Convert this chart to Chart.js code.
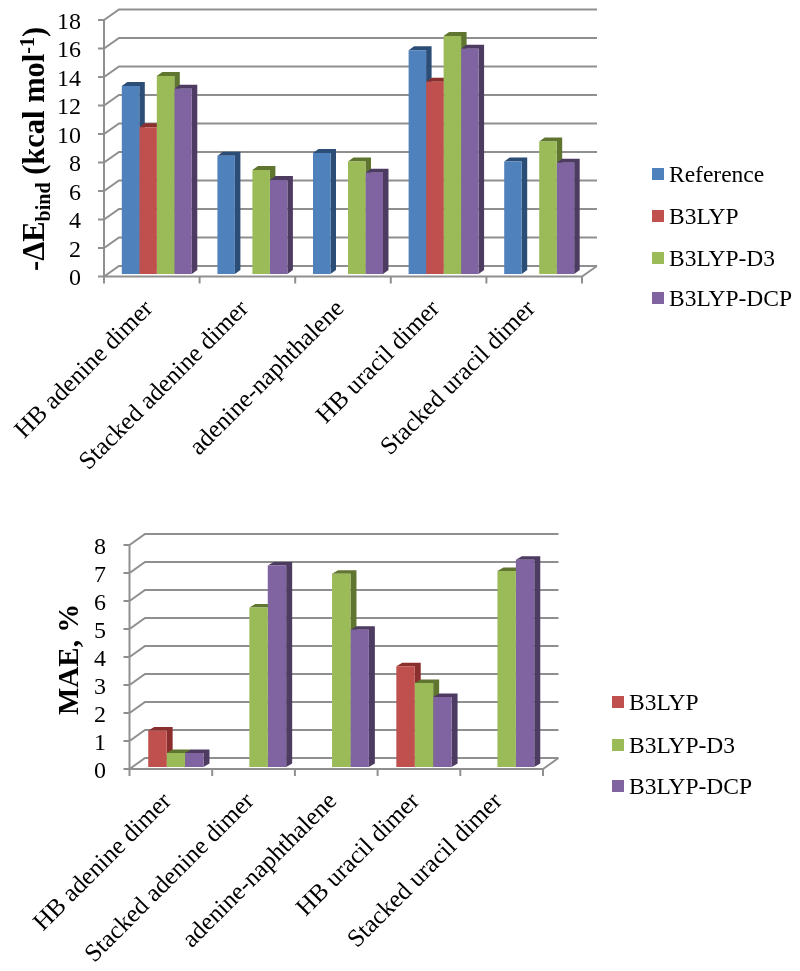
<!DOCTYPE html>
<html>
<head>
<meta charset="utf-8">
<script src="https://cdn.jsdelivr.net/npm/chart.js@4/dist/chart.umd.min.js"></script>
<style>
  body { margin: 0; background: #fff; }
  canvas { position: absolute; left: 0; }
</style>
</head>
<body>
<canvas id="energyChart" width="800" height="490" style="top:0"></canvas>
<canvas id="maeChart" width="800" height="481" style="top:490px"></canvas>
<script>
const categories = ['HB adenine dimer', 'Stacked adenine dimer', 'adenine-naphthalene', 'HB uracil dimer', 'Stacked uracil dimer'];

// top chart, -dE bind
const energyReference = [13.2, 8.3, 8.5, 15.7, 7.9];
const energyB3LYP = [10.3, null, null, 13.5, null];
const energyD3 = [13.9, 7.3, 7.9, 16.7, 9.3];
const energyDCP = [13.0, 6.6, 7.1, 15.8, 7.8];

// bottom chart, MAE
const maeB3LYP = [1.3, null, null, 3.6, null];
const maeD3 = [0.5, 5.7, 6.9, 3.0, 7.0];
const maeDCP = [0.5, 7.2, 4.9, 2.5, 7.4];

const SERIF = '"Liberation Serif"';
const GRID = '#8f8f8f';
const colors = {
    'Reference': ['#4f81bd', '#2c4d75'],
    'B3LYP': ['#c0504d', '#8a2f2d'],
    'B3LYP-D3': ['#9bbb59', '#5f7530'],
    'B3LYP-DCP': ['#8064a2', '#4d3b62']
};

// fake 3D walls, bar depth, legend and axis title
const fake3d = {
    id: 'fake3d',
    beforeDatasetsDraw(chart, args, o) {
        const ctx = chart.ctx;
        const { left, right, bottom } = chart.chartArea;
        const y = chart.scales.y;

        ctx.save();
        ctx.strokeStyle = GRID;
        ctx.lineWidth = 2;
        ctx.beginPath();
        y.ticks.forEach(t => {
            const py = y.getPixelForValue(t.value);
            ctx.moveTo(left - 6, py);
            ctx.lineTo(left, py);
            ctx.lineTo(left + o.wallX, py - o.wallY);
            ctx.lineTo(right + o.wallX, py - o.wallY);
        });
        ctx.moveTo(left, y.getPixelForValue(y.max));
        ctx.lineTo(left, bottom);
        ctx.lineTo(right, bottom);
        ctx.lineTo(right + o.wallX, bottom - o.wallY);
        for (let i = 0; i <= categories.length; i++) {
            const px = left + (right - left) * i / categories.length;
            ctx.moveTo(px, bottom);
            ctx.lineTo(px, bottom + 7);
        }
        ctx.stroke();

        ctx.translate(o.shiftX, -o.shiftY);

        // sides and tops go first, the library paints the fronts over them
        chart.data.datasets.forEach((ds, di) => {
            chart.getDatasetMeta(di).data.forEach((bar, i) => {
                if (ds.data[i] === null) return;
                const { x: cx, y: top, base, width } = bar.getProps(['x', 'y', 'base', 'width'], true);
                const l = cx - width / 2, r = cx + width / 2;
                ctx.fillStyle = colors[ds.label][1];
                ctx.beginPath();
                ctx.moveTo(l, top);
                ctx.lineTo(l + o.depthX, top - o.depthY);
                ctx.lineTo(r + o.depthX, top - o.depthY);
                ctx.lineTo(r + o.depthX, base - o.depthY);
                ctx.lineTo(r, base);
                ctx.lineTo(r, top);
                ctx.closePath();
                ctx.fill();
            });
        });
    },
    afterDatasetsDraw(chart, args, o) {
        const ctx = chart.ctx;
        ctx.restore();

        ctx.save();
        ctx.textBaseline = 'middle';
        ctx.font = '23.5px ' + SERIF;
        chart.data.datasets.forEach((ds, i) => {
            const ly = o.legendY[i];
            ctx.fillStyle = ds.backgroundColor;
            ctx.fillRect(o.legendX, ly - 6, 12, 12);
            ctx.fillStyle = '#000';
            ctx.fillText(ds.label, o.legendX + 17, ly + 1.5);
        });
        ctx.restore();

        ctx.save();
        ctx.translate(o.titleX, o.titleY);
        ctx.rotate(-Math.PI / 2);
        ctx.fillStyle = '#000';
        let cur = 0;
        o.title.forEach(part => {
            ctx.font = 'bold ' + part[1] + 'px ' + SERIF;
            ctx.fillText(part[0], cur, part[2]);
            cur += ctx.measureText(part[0]).width;
        });
        ctx.restore();
    }
};

function makeDatasets(labels, series) {
    return labels.map((label, i) => ({
        label: label,
        data: series[i],
        backgroundColor: colors[label][0],
        clip: false
    }));
}

// nudges the tick labels a few pixels, the axis options have no setting for it
function nudgeLabels(scale, dx, dy) {
    const compute = scale._computeLabelItems;
    scale._computeLabelItems = function (area) {
        const items = compute.call(this, area);
        items.forEach(item => {
            item.options.translation = [item.options.translation[0] + dx, item.options.translation[1] + dy];
        });
        return items;
    };
}

function makeChart(id, datasets, yMax, layout, fake) {
    const chart = new Chart(document.getElementById(id).getContext('2d'), {
        type: 'bar',
        data: { labels: categories, datasets: datasets },
        plugins: [fake3d],
        options: {
            responsive: false,
            animation: false,
            categoryPercentage: layout.catPct,
            barPercentage: 1,
            layout: { padding: { top: layout.top, right: layout.right, left: 0, bottom: 0 } },
            plugins: { legend: { display: false }, tooltip: { enabled: false }, fake3d: fake },
            scales: {
                x: {
                    grid: { display: false, drawTicks: false },
                    border: { display: false },
                    ticks: {
                        color: '#000',
                        autoSkip: false,
                        minRotation: 45,
                        maxRotation: 45,
                        padding: layout.xPad,
                        font: { family: SERIF, size: 25 }
                    },
                    afterFit(s) { s.height = layout.xHeight; s.paddingLeft = 0; s.paddingRight = 0; }
                },
                y: {
                    min: 0,
                    max: yMax,
                    grid: { display: false, drawTicks: false },
                    border: { display: false },
                    ticks: {
                        color: '#000',
                        autoSkip: false,
                        stepSize: yMax === 18 ? 2 : 1,
                        padding: layout.yPad,
                        font: { family: SERIF, size: 24 }
                    },
                    afterFit(s) { s.width = layout.yWidth; s.paddingTop = 0; s.paddingBottom = 0; }
                }
            }
        }
    });
    nudgeLabels(chart.scales.x, layout.xNudge, 0);
    nudgeLabels(chart.scales.y, 0, 2.5);
    chart.scales.x._labelItems = null;
    chart.scales.y._labelItems = null;
    chart.draw();
    return chart;
}

makeChart('energyChart',
    makeDatasets(['Reference', 'B3LYP', 'B3LYP-D3', 'B3LYP-DCP'], [energyReference, energyB3LYP, energyD3, energyDCP]),
    18,
    { catPct: 0.732, top: 20, right: 218, xHeight: 213.5, yWidth: 104, yPad: 23, xPad: 18, xNudge: -2.5 },
    {
        wallX: 15, wallY: 10.5, shiftX: 5, shiftY: 2.5, depthX: 5.5, depthY: 4,
        legendX: 652, legendY: [174, 216, 258, 298],
        titleX: 44, titleY: 271,
        title: [['-ΔE', 30.5, 0], ['bind', 20, 6], [' (kcal mol', 30.5, 0], ['-1', 20, -10], [')', 30.5, 0]]
    });

makeChart('maeChart',
    makeDatasets(['B3LYP', 'B3LYP-D3', 'B3LYP-DCP'], [maeB3LYP, maeD3, maeDCP]),
    8,
    { catPct: 0.668, top: 55, right: 257, xHeight: 202, yWidth: 129.5, yPad: 23.5, xPad: 18, xNudge: -3 },
    {
        wallX: 15.5, wallY: 11, shiftX: 5, shiftY: 2, depthX: 6, depthY: 3.5,
        legendX: 612, legendY: [212, 255, 296],
        titleX: 78, titleY: 225,
        title: [['MAE, %', 29, 0]]
    });
</script>
</body>
</html>
